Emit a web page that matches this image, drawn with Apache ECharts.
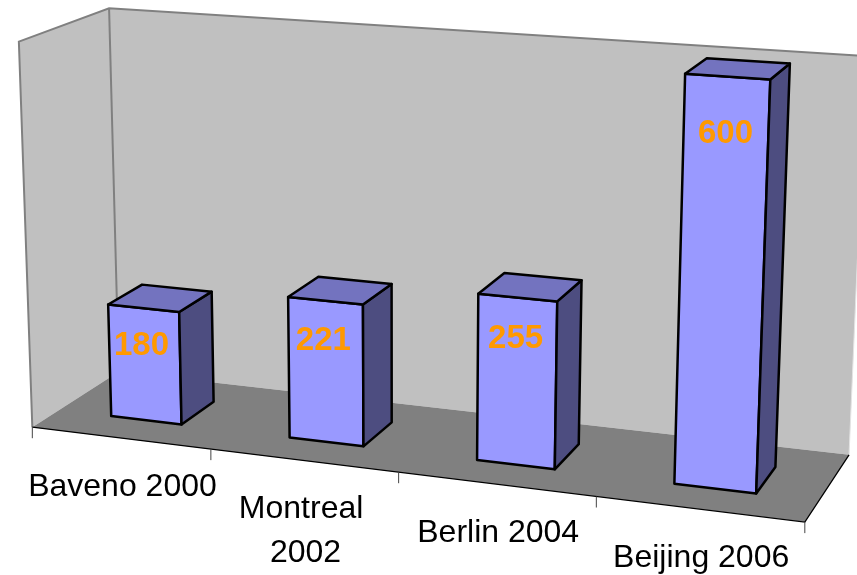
<!DOCTYPE html>
<html>
<head>
<meta charset="utf-8">
<script src="https://cdn.jsdelivr.net/npm/echarts@6/dist/echarts.min.js"></script>
<style>
html, body { margin: 0; padding: 0; background: #fff; }
#chart { width: 857px; height: 575px; }
</style>
</head>
<body>
<div id="chart"></div>
<script>
var categories = ["Baveno 2000", "Montreal 2002", "Berlin 2004", "Beijing 2006"];
var values = [180, 221, 255, 600];
var yMax = 600;

// corners of the 3d box as seen in the picture
// [X (0..4 categories), Y (0..1 of yMax), Z (0 front .. 1 back), px, py]
var roomAnchors = [
    [0, 0, 0, 33, 427],
    [4, 0, 0, 805, 522],
    [0, 0, 1, 118, 372],
    [4, 0, 1, 849, 455],
    [0, 1, 0, 18, 42],
    [0, 1, 1, 110, 8],
    [4, 1, 1, 866, 56]
];

var barHalf = 0.2;    // half width of a column, in category units
var barFront = 0.3;   // column depth inside the floor
var barBack = 0.7;

function solve(M, b) {
    var n = b.length, i, j, k, t;
    for (i = 0; i < n; i++) {
        var p = i;
        for (j = i + 1; j < n; j++) if (Math.abs(M[j][i]) > Math.abs(M[p][i])) p = j;
        t = M[i]; M[i] = M[p]; M[p] = t;
        t = b[i]; b[i] = b[p]; b[p] = t;
        for (j = i + 1; j < n; j++) {
            var f = M[j][i] / M[i][i];
            for (k = i; k < n; k++) M[j][k] -= f * M[i][k];
            b[j] -= f * b[i];
        }
    }
    var x = [];
    for (i = n - 1; i >= 0; i--) {
        var s = b[i];
        for (k = i + 1; k < n; k++) s -= M[i][k] * x[k];
        x[i] = s / M[i][i];
    }
    return x;
}

// least squares perspective camera from the box corners
function fitCamera(pts) {
    var rows = [], rhs = [];
    pts.forEach(function (p) {
        var X = p[0] / 4, Y = p[1], Z = p[2];
        var u = (p[3] - 430) / 430, v = (p[4] - 290) / 430;
        rows.push([X, Y, Z, 1, 0, 0, 0, 0, -u * X, -u * Y, -u * Z]); rhs.push(u);
        rows.push([0, 0, 0, 0, X, Y, Z, 1, -v * X, -v * Y, -v * Z]); rhs.push(v);
    });
    var N = [], r = [];
    for (var i = 0; i < 11; i++) {
        N.push([]); r.push(0);
        for (var j = 0; j < 11; j++) {
            var s = 0;
            for (var k = 0; k < rows.length; k++) s += rows[k][i] * rows[k][j];
            N[i].push(s);
        }
        for (var k2 = 0; k2 < rows.length; k2++) r[i] += rows[k2][i] * rhs[k2];
    }
    return solve(N, r);
}

var cam = fitCamera(roomAnchors);

function P(X, Y, Z) {
    var c = cam, x = X / 4;
    var w = c[8] * x + c[9] * Y + c[10] * Z + 1;
    return [
        (c[0] * x + c[1] * Y + c[2] * Z + c[3]) / w * 430 + 430,
        (c[4] * x + c[5] * Y + c[6] * Z + c[7]) / w * 430 + 290
    ];
}

function poly(points, fill) {
    return {type: "polygon", shape: {points: points}, style: {fill: fill, stroke: null}};
}
function line(points, color, width) {
    return {type: "polyline", shape: {points: points}, style: {stroke: color, lineWidth: width, fill: null}};
}

function renderRoom(params, api) {
    var kids = [
        poly([P(0, 0, 0), P(0, 0, 1), P(0, 1, 1), P(0, 1, 0)], "#c0c0c0"),
        poly([P(0, 0, 1), P(4, 0, 1), P(4, 1, 1), P(0, 1, 1)], "#c0c0c0"),
        poly([P(0, 0, 0), P(4, 0, 0), P(4, 0, 1), P(0, 0, 1)], "#808080"),
        line([P(4, 0, 1), P(4, 1, 1)], "#e4e4e4", 1),
        line([P(0, 0, 0), P(0, 1, 0), P(0, 1, 1), P(4, 1, 1)], "#808080", 2),
        line([P(0, 1, 1), P(0, 0, 1)], "#808080", 2),
        line([P(0, 0, 0), P(4, 0, 0), P(4, 0, 1)], "#000", 1.3)
    ];
    for (var i = 0; i <= categories.length; i++) {
        var t = P(i, 0, 0);
        kids.push(line([[t[0], t[1]], [t[0], t[1] + 11]], "#444", 1));
    }
    return {type: "group", children: kids};
}

function renderBar(params, api) {
    var idx = api.value(0);
    var val = api.value(1);
    var base = api.coord([idx, 0]);
    var top = api.coord([idx, val]);
    var full = api.coord([idx, yMax]);
    var band = api.size([1, 0])[0];
    var xc = (base[0] - params.coordSys.x) / band;
    var h = (base[1] - top[1]) / (base[1] - full[1]);
    var x0 = xc - barHalf, x1 = xc + barHalf, z0 = barFront, z1 = barBack;
    var edge = {stroke: "#000", lineWidth: 2.5, lineJoin: "round"};
    var face = function (pts, fill) {
        return {type: "polygon", shape: {points: pts}, style: Object.assign({fill: fill}, edge)};
    };
    var ft = P(xc, h, z0);
    var fl = P(xc, 0, 0);
    return {
        type: "group",
        children: [
            face([P(x0, 0, z0), P(x1, 0, z0), P(x1, h, z0), P(x0, h, z0)], "#9999ff"),
            face([P(x1, 0, z0), P(x1, 0, z1), P(x1, h, z1), P(x1, h, z0)], "#4d4d80"),
            face([P(x0, h, z0), P(x1, h, z0), P(x1, h, z1), P(x0, h, z1)], "#7373bf"),
            {
                type: "text",
                style: {
                    text: String(val), x: ft[0] - 2, y: ft[1] + 30 + val * 0.045,
                    fill: "#ff9900", font: "bold 33px 'Liberation Sans', Arial, sans-serif",
                    align: "center", verticalAlign: "middle"
                }
            },
            {
                type: "text",
                style: {
                    text: categories[idx], x: fl[0] + 2, y: fl[1] + 27,
                    fill: "#000", font: "32px 'Liberation Sans', Arial, sans-serif",
                    align: "center", verticalAlign: "top", lineHeight: 44,
                    width: 196, overflow: "break"
                }
            }
        ]
    };
}

var chart = echarts.init(document.getElementById("chart"), null, {renderer: "canvas"});
chart.setOption({
    animation: false,
    grid: {left: 0, right: 0, top: 0, bottom: 0},
    xAxis: {type: "category", data: categories, show: false},
    yAxis: {type: "value", min: 0, max: yMax, show: false},
    series: [
        {
            type: "custom",
            renderItem: renderRoom,
            data: [[0, 0]],
            silent: true,
            z: 1
        },
        {
            type: "custom",
            renderItem: renderBar,
            data: values.map(function (v, i) { return [i, v]; }),
            z: 2
        }
    ]
});
</script>
</body>
</html>
